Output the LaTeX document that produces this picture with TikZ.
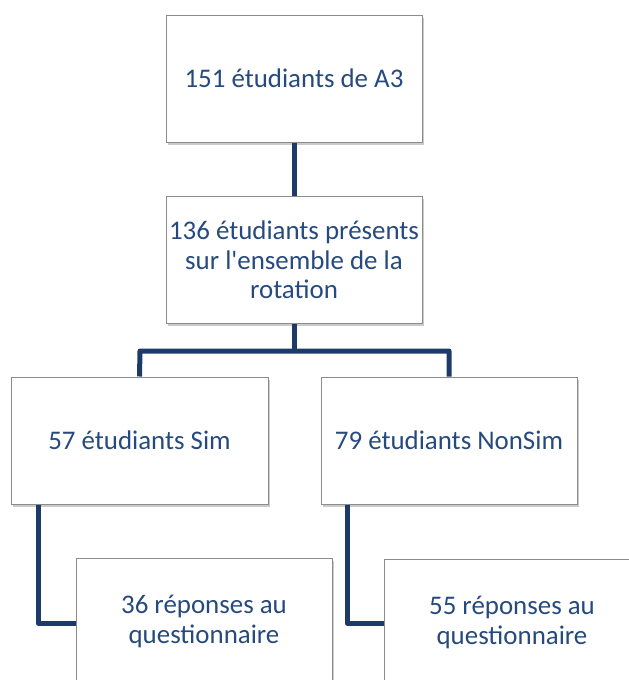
\documentclass[tikz,border=0pt]{standalone}
\usepackage{fontspec}
\setmainfont{Carlito}[Ligatures=TeXOff]
\usetikzlibrary{shadows}
\definecolor{txtblue}{HTML}{264A7E}
\definecolor{linenavy}{HTML}{1D3B68}
\definecolor{boxgray}{HTML}{8C8C8C}
\tikzset{
  orgbox/.style={draw=boxgray, line width=1pt, fill=white, minimum width=256pt, minimum height=127pt,
    inner sep=0pt, align=center, text=txtblue, font=\fontsize{26.9}{29.5}\selectfont,
    drop shadow={shadow xshift=2pt, shadow yshift=-2.5pt, opacity=0.35, fill=black!60}},
  link/.style={draw=linenavy, line width=5pt}
}
\begin{document}
\begin{tikzpicture}[x=1pt,y=-1pt]
\useasboundingbox (0,0) rectangle (629,680);
\clip (0,0) rectangle (629,680);
\coordinate (jB) at (294,351);
\coordinate (jL) at (140,351);
\coordinate (jR) at (449,351);
\node[orgbox] (A) at (294,78.5) {151 étudiants de A3};
\node[orgbox] (B) at (294,260) {136 étudiants présents\\sur l'ensemble de la\\rotation};
\node[orgbox, minimum width=257pt] (C) at (139.5,440.5) {57 étudiants Sim};
\node[orgbox] (D) at (449,440.5) {79 étudiants NonSim};
\node[orgbox] (E) at (204,621.5) {36 réponses au\\questionnaire};
\node[orgbox] (F) at (512,622.5) {55 réponses au\\questionnaire};
\coordinate (kL) at (38,623);
\coordinate (kR) at (347,623);
\draw[link] (A.south) -- (B.north);
\draw[link] (B.south) -- (jB);
\draw[link, line join=round] (C.north) -- (jL) -- (jR) -- (D.north);
\draw[link, line join=round] (C.south -| kL) -- (kL) -- (kL -| E.west);
\draw[link, line join=round] (D.south -| kR) -- (kR) -- (kR -| F.west);
\end{tikzpicture}
\end{document}
